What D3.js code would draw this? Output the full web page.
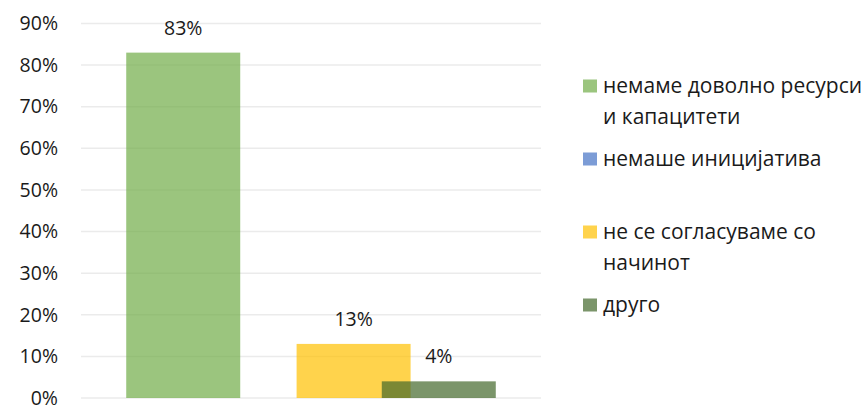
<!doctype html>
<html lang="mk">
<head>
    <meta charset="UTF-8">
    <title>Chart</title>
    <script src="https://cdn.jsdelivr.net/npm/d3@7"></script>
    <style>
        body { margin: 0; background: #fff; }
        svg { display: block; font-family: "Open Sans", "Noto Sans", sans-serif; }
    </style>
</head>
<body>
<script>
    // data
    var series = ["немаме доволно ресурси и капацитети", "немаше иницијатива", "не се согласуваме со начинот", "друго"];
    var legendLines = [["немаме доволно ресурси", "и капацитети"], ["немаше иницијатива"], ["не се согласуваме со", "начинот"], ["друго"]];
    var values = [0.83, 0, 0.13, 0.04];
    var yTicks = [0, 0.1, 0.2, 0.3, 0.4, 0.5, 0.6, 0.7, 0.8, 0.9];
    var colors = ["#70AD47", "#4472C4", "#FFC000", "#43682B"];

    var w = 867, h = 417;
    var plotLeft = 81, plotRight = 541, plotTop = 23.5, plotBottom = 398;
    var barW = 114;

    var svg = d3.select("body").append("svg").attr("width", w).attr("height", h);

    var y = d3.scaleLinear().domain([0, 0.9]).range([plotBottom, plotTop]);
    var x = d3.scalePoint().domain(series).range([plotLeft, plotRight]).padding(1.2);

    // gridlines
    svg.selectAll("line.grid")
        .data(yTicks)
        .enter()
        .append("line")
        .attr("class", "grid")
        .attr("x1", plotLeft).attr("x2", plotRight)
        .attr("y1", function (d) { return y(d); })
        .attr("y2", function (d) { return y(d); })
        .attr("stroke", "#ebebeb")
        .attr("stroke-width", 1.5);

    var axis = d3.axisLeft(y).tickValues(yTicks).tickFormat(d3.format(".0%")).tickSize(0).tickPadding(0);
    var ag = svg.append("g").attr("transform", "translate(58,0)").call(axis);
    ag.select(".domain").remove();
    ag.selectAll("text").attr("font-size", "19.5px").attr("fill", "#1a1a1a")
        .attr("font-family", "\"Open Sans\", \"Noto Sans\", sans-serif");

    // bars
    svg.selectAll("rect.bar")
        .data(series)
        .enter()
        .append("rect")
        .attr("class", "bar")
        .attr("x", function (d) { return x(d) - barW / 2; })
        .attr("y", function (d, i) { return y(values[i]); })
        .attr("width", barW)
        .attr("height", function (d, i) { return plotBottom - y(values[i]); })
        .attr("fill", function (d, i) { return colors[i]; })
        .attr("fill-opacity", 0.7);

    // value labels
    svg.selectAll("text.val")
        .data(series.filter(function (d, i) { return values[i] > 0; }))
        .enter()
        .append("text")
        .attr("class", "val")
        .attr("x", function (d) { return x(d); })
        .attr("y", function (d) { return y(values[series.indexOf(d)]) - 18; })
        .attr("text-anchor", "middle")
        .attr("font-size", "19.5px")
        .attr("fill", "#1a1a1a")
        .text(function (d) { return d3.format(".0%")(values[series.indexOf(d)]); });

    // legend
    var lg = svg.selectAll("g.leg")
        .data(series)
        .enter()
        .append("g")
        .attr("class", "leg")
        .attr("transform", function (d, i) { return "translate(583," + (86 + i * 73) + ")"; });
    lg.append("rect")
        .attr("x", 0).attr("y", -6.5)
        .attr("width", 14).attr("height", 13)
        .attr("fill", function (d, i) { return colors[i]; })
        .attr("fill-opacity", 0.7);
    lg.each(function (d, i) {
        var g = d3.select(this);
        legendLines[i].forEach(function (line, j) {
            g.append("text")
                .attr("x", 20)
                .attr("y", j * 31)
                .attr("dy", "0.35em")
                .attr("font-size", "21px")
                .attr("fill", "#1a1a1a")
                .text(line);
        });
    });
</script>
</body>
</html>
